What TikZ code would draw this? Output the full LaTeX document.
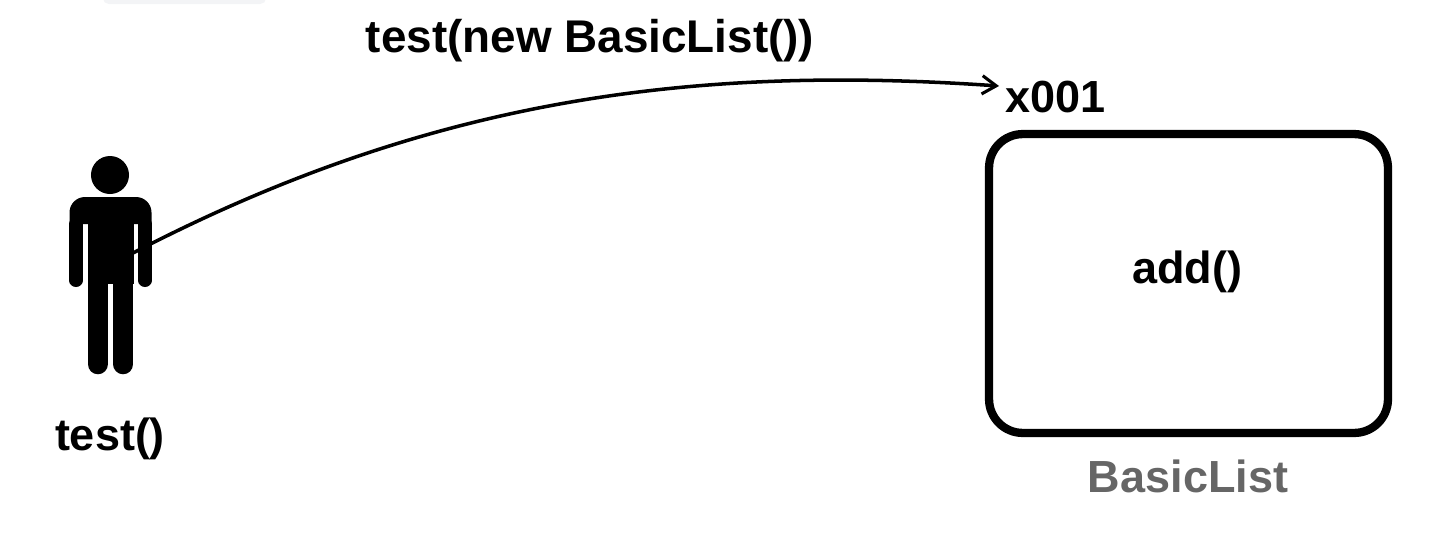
\documentclass[tikz,border=0pt]{standalone}
\usepackage{fontspec}
\setmainfont{Liberation Sans}
\definecolor{mlgray}{RGB}{102,102,102}
\definecolor{mltab}{RGB}{243,244,246}
\usetikzlibrary{arrows.meta,positioning}

\begin{document}
\begin{tikzpicture}[
  x=0.025cm,y=-0.025cm,
  labeltext/.style={font=\fontsize{32}{36}\selectfont\bfseries,inner sep=0pt},
  classbox/.style={draw,line width=5.9pt,rounded corners=24pt,
    minimum width=9.97cm,minimum height=7.47cm,inner sep=0pt},
  armline/.style={line width=9.25pt,line cap=round},
  legline/.style={line width=14.6pt,line cap=round}
]
  \useasboundingbox (0,0) rectangle (1444,534);
  \fill[mltab,rounded corners=4pt] (103,-10) rectangle (266,4);
  % Person
  \node[fill=black,circle,minimum size=0.95cm,inner sep=0pt] (head) at (110,175) {};
  \fill (69.5,224) [rounded corners=11pt] -- (69.5,197) -- (151.5,197) [sharp corners] -- (151.5,224) -- cycle;
  \fill (87.5,215) rectangle (133.5,284);
  \draw[armline] (76,224) -- (76,280.5);
  \draw[armline] (145,224) -- (145,280.5);
  \draw[legline] (97.8,284) -- (97.8,364);
  \draw[legline] (123.2,284) -- (123.2,364);
  \node[labeltext] (testcall) at (110,439) {test()};
  % Instance
  \node[classbox] (listbox) at (1188.5,283.5) {};
  \node[labeltext] (addcall) at (1187,272) {add()};
  \node[labeltext,mlgray] (listname) at (1188,476) {BasicList};
  \node[labeltext,anchor=west] (addr) at (1005,97) {x001};
  \node[labeltext,font=\fontsize{32.6}{36}\selectfont\bfseries] (argcall) at (590,41) {test(new BasicList())};
  % Reference arrow
  \coordinate (hand) at (133,253);
  \coordinate (ptr) at (999,86);
  \draw[line width=2.5pt,-{Straight Barb[length=10pt,width=13pt,line width=2.2pt]}]
    (hand) .. controls (433,97) and (697,65) .. (ptr);
\end{tikzpicture}
\end{document}
